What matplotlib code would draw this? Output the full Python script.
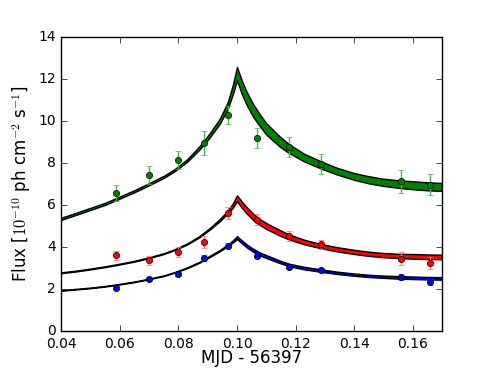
import numpy as np
import matplotlib
matplotlib.use('Agg')
import matplotlib.pyplot as plt

plt.style.use('classic')
plt.rcParams['figure.facecolor'] = 'white'
plt.rcParams['savefig.facecolor'] = 'white'
plt.rcParams['xtick.labelsize'] = 10
plt.rcParams['ytick.labelsize'] = 10
plt.rcParams['axes.labelsize'] = 12

# observed fluxes (MJD - 56397)
x_obs = [0.0587, 0.0698, 0.0797, 0.0887, 0.0968, 0.1068, 0.1178, 0.1288, 0.1560, 0.1660]
green = [6.56, 7.44, 8.14, 8.94, 10.28, 9.19, 8.75, 7.95, 7.13, 6.97]
green_err = [0.38, 0.43, 0.45, 0.58, 0.44, 0.46, 0.47, 0.49, 0.55, 0.51]
red = [3.61, 3.37, 3.77, 4.23, 5.63, 5.30, 4.54, 4.13, 3.45, 3.26]
red_err = [0.22, 0.22, 0.23, 0.28, 0.28, 0.25, 0.24, 0.22, 0.32, 0.29]
blue = [2.07, 2.46, 2.73, 3.50, 4.07, 3.56, 3.07, 2.90, 2.59, 2.33]
blue_err = [0.08, 0.08, 0.10, 0.14, 0.12, 0.08, 0.08, 0.08, 0.14, 0.14]

# model bands: centre and half width
x_mod = [0.040, 0.045, 0.050, 0.055, 0.0587, 0.065, 0.0698, 0.075, 0.0787, 0.083,
         0.0872, 0.0906, 0.0941, 0.0968, 0.0986, 0.100, 0.1015, 0.1032, 0.1055, 0.1077,
         0.110, 0.1146, 0.1178, 0.123, 0.1288, 0.134, 0.140, 0.145, 0.150, 0.155,
         0.160, 0.165, 0.170]
green_mod = [5.35, 5.58, 5.82, 6.06, 6.28, 6.66, 6.98, 7.34, 7.66, 8.12,
             8.72, 9.30, 9.98, 10.72, 11.50, 12.25, 11.65, 11.10, 10.50, 10.05,
             9.62, 9.02, 8.68, 8.25, 7.90, 7.62, 7.36, 7.20, 7.08, 7.00,
             6.94, 6.89, 6.86]
green_hw = [0.05, 0.05, 0.05, 0.05, 0.05, 0.05, 0.05, 0.05, 0.05, 0.06,
            0.08, 0.10, 0.12, 0.16, 0.22, 0.32, 0.32, 0.31, 0.30, 0.28,
            0.27, 0.24, 0.21, 0.18, 0.17, 0.16, 0.16, 0.17, 0.17, 0.18,
            0.19, 0.19, 0.19]
red_mod = [2.78, 2.86, 2.96, 3.07, 3.16, 3.33, 3.49, 3.69, 3.88, 4.15,
           4.50, 4.86, 5.28, 5.66, 5.98, 6.32, 6.04, 5.76, 5.44, 5.20,
           5.00, 4.68, 4.48, 4.24, 4.04, 3.90, 3.77, 3.68, 3.62, 3.58,
           3.56, 3.54, 3.53]
red_hw = [0.02, 0.02, 0.02, 0.02, 0.02, 0.02, 0.02, 0.02, 0.02, 0.025,
          0.03, 0.04, 0.05, 0.07, 0.10, 0.14, 0.15, 0.15, 0.15, 0.14,
          0.14, 0.13, 0.12, 0.11, 0.10, 0.10, 0.10, 0.10, 0.10, 0.10,
          0.11, 0.11, 0.11]
blue_mod = [1.94, 2.00, 2.06, 2.14, 2.21, 2.35, 2.48, 2.64, 2.80, 3.02,
            3.28, 3.55, 3.83, 4.08, 4.27, 4.45, 4.27, 4.07, 3.85, 3.68,
            3.55, 3.30, 3.15, 3.00, 2.88, 2.78, 2.69, 2.63, 2.59, 2.56,
            2.54, 2.52, 2.51]
blue_hw = [0.015, 0.015, 0.015, 0.015, 0.015, 0.015, 0.015, 0.015, 0.015, 0.02,
           0.02, 0.03, 0.03, 0.04, 0.05, 0.07, 0.07, 0.07, 0.07, 0.07,
           0.07, 0.06, 0.06, 0.06, 0.06, 0.055, 0.055, 0.055, 0.055, 0.06,
           0.06, 0.06, 0.06]

fig = plt.figure(figsize=(4.91, 3.68), dpi=100)
ax = fig.add_subplot(111)

bands = [(green_mod, green_hw, 'g'), (red_mod, red_hw, 'r'), (blue_mod, blue_hw, 'b')]
for mid, hw, c in bands:
    mid = np.array(mid)
    hw = np.array(hw)
    ax.fill_between(x_mod, mid - hw, mid + hw, facecolor=c, edgecolor='k', lw=1.0)

points = [(green, green_err, 'g', '#55b055'), (red, red_err, 'r', '#ff7070'),
          (blue, blue_err, 'b', '#7070ff')]
for y, err, c, ec in points:
    ax.errorbar(x_obs, y, yerr=err, fmt='o', color=c, ecolor=ec, mec='k', mew=0.5,
                ms=4.5, capsize=2, elinewidth=1)

ax.set_xlim(0.04, 0.17)
ax.set_ylim(0, 14)
ax.set_xlabel('MJD - 56397', labelpad=-1)
ax.set_ylabel(r'Flux [$10^{-10}$ ph cm$^{-2}$ s$^{-1}$]', labelpad=4)

fig.savefig('out.png', dpi=100)
